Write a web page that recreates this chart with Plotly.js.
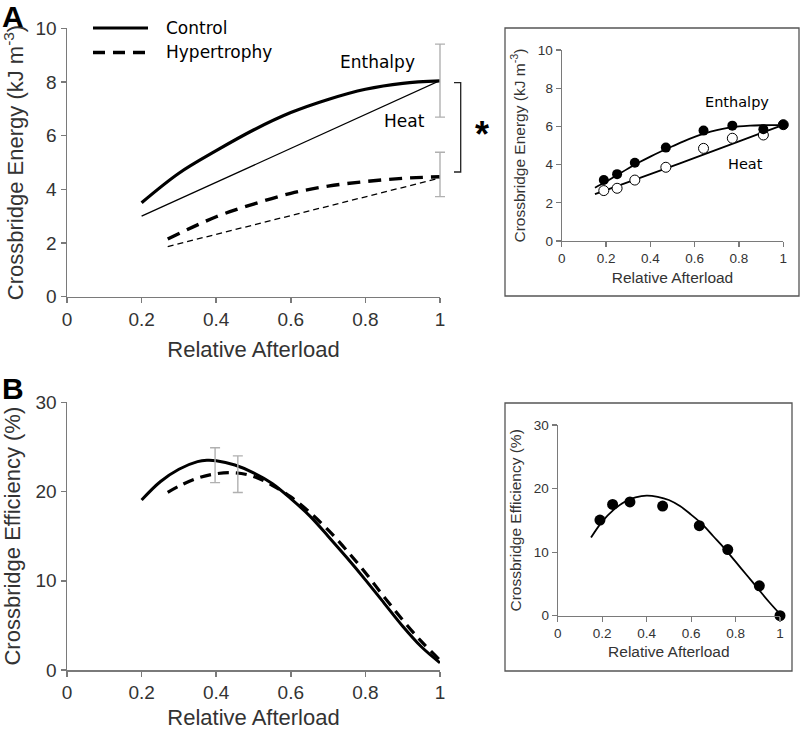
<!DOCTYPE html>
<html>
<head>
<meta charset="utf-8">
<script src="https://cdn.plot.ly/plotly-3.0.1.min.js"></script>
<style>html,body{margin:0;padding:0;background:#fff;}#chart{width:800px;height:730px;}</style>
</head>
<body>
<div id="chart"></div>
<script>
// ---------- Panel A (main): model curves ----------
var aCtrlEnthX = [0.2, 0.3, 0.4, 0.5, 0.6, 0.7, 0.8, 0.9, 1.0];
var aCtrlEnthY = [3.5, 4.6, 5.44, 6.21, 6.86, 7.35, 7.73, 7.95, 8.04];
var aCtrlHeatX = [0.2, 1.0];
var aCtrlHeatY = [3.0, 8.05];
var aHypEnthX = [0.27, 0.4, 0.5, 0.6, 0.7, 0.8, 0.9, 1.0];
var aHypEnthY = [2.15, 2.98, 3.45, 3.85, 4.12, 4.29, 4.41, 4.47];
var aHypHeatX = [0.27, 1.0];
var aHypHeatY = [1.87, 4.42];
// error bars at relative afterload 1
var aErrX = [1.0, 1.0];
var aErrY = [8.05, 4.47];
var aErrPlus = [1.36, 0.91];
var aErrMinus = [1.36, 0.74];

// ---------- Panel A (inset): measured points & fits ----------
var aInsX = [0.19, 0.25, 0.33, 0.47, 0.64, 0.77, 0.91, 1.0];
var aInsEnth = [3.19, 3.5, 4.1, 4.89, 5.78, 6.04, 5.85, 6.09];
var aInsHeat = [2.64, 2.76, 3.19, 3.86, 4.85, 5.38, 5.55, 6.09];
var aInsEnthFitX = [0.15, 0.2, 0.25, 0.3, 0.35, 0.4, 0.45, 0.5, 0.55, 0.6, 0.65, 0.7, 0.75, 0.8, 0.85, 0.9, 0.95, 1.0];
var aInsEnthFitY = [2.79, 3.1, 3.45, 3.8, 4.12, 4.42, 4.7, 4.96, 5.22, 5.45, 5.65, 5.8, 5.92, 6.0, 6.04, 6.06, 6.07, 6.06];
var aInsHeatFitX = [0.15, 0.4, 0.6, 0.8, 1.0];
var aInsHeatFitY = [2.45, 3.5, 4.35, 5.22, 6.08];

// ---------- Panel B (main): efficiency curves ----------
var bCtrlX = [0.2, 0.25, 0.3, 0.35, 0.375, 0.4, 0.45, 0.5, 0.55, 0.6, 0.65, 0.7, 0.75, 0.8, 0.85, 0.9, 0.95, 1.0];
var bCtrlY = [19.05, 21.1, 22.5, 23.35, 23.5, 23.45, 22.97, 22.1, 20.9, 19.2, 17.3, 15.0, 12.6, 10.1, 7.5, 4.9, 2.6, 0.8];
var bHypX = [0.27, 0.3, 0.35, 0.4, 0.45, 0.5, 0.55, 0.6, 0.65, 0.7, 0.75, 0.8, 0.85, 0.9, 0.95, 1.0];
var bHypY = [19.9, 20.6, 21.5, 22.0, 22.1, 21.7, 20.7, 19.4, 17.7, 15.7, 13.4, 10.9, 8.2, 5.6, 3.2, 1.1];
var bErrX = [0.397, 0.458];
var bErrY = [22.95, 21.95];
var bErr = [1.95, 2.05];

// ---------- Panel B (inset): measured points & fit ----------
var bInsX = [0.19, 0.247, 0.325, 0.472, 0.637, 0.765, 0.907, 1.0];
var bInsY = [15.05, 17.5, 17.9, 17.25, 14.16, 10.4, 4.7, 0.0];
var bInsFitX = [0.15, 0.2, 0.25, 0.3, 0.35, 0.4, 0.45, 0.5, 0.55, 0.6, 0.65, 0.7, 0.75, 0.8, 0.85, 0.9, 0.95, 1.0];
var bInsFitY = [12.3, 14.8, 16.6, 17.9, 18.6, 18.9, 18.7, 18.2, 17.25, 15.9, 14.4, 12.5, 10.6, 8.5, 6.4, 4.3, 2.2, 0.26];

var xTickVals = [0, 0.2, 0.4, 0.6, 0.8, 1];
var xTickText = ['0', '0.2', '0.4', '0.6', '0.8', '1'];

var ARIAL = 'Arial, "Liberation Sans", sans-serif';
var VERD = '"DejaVu Sans", Verdana, sans-serif';
var AXC = '#7a7a7a';
var TXC = '#333333';

function px(x) { return x / 800; }
function py(y) { return 1 - y / 730; }

// pixel geometry of the main panel x-axis (0 -> 67px, 1 -> 440px)
var mainX0 = 67, mainX1 = 440, mainXExt = 462;

var traces = [
  // A main
  {x: aCtrlEnthX, y: aCtrlEnthY, xaxis: 'x', yaxis: 'y', mode: 'lines', line: {color: '#000', width: 3.2, shape: 'spline'}, name: 'Control enthalpy'},
  {x: aCtrlHeatX, y: aCtrlHeatY, xaxis: 'x', yaxis: 'y', mode: 'lines', line: {color: '#000', width: 1.3}, name: 'Control heat'},
  {x: aHypEnthX, y: aHypEnthY, xaxis: 'x', yaxis: 'y', mode: 'lines', line: {color: '#000', width: 3.4, dash: '13px,8px', shape: 'spline'}, name: 'Hypertrophy enthalpy'},
  {x: aHypHeatX, y: aHypHeatY, xaxis: 'x', yaxis: 'y', mode: 'lines', line: {color: '#000', width: 1.3, dash: '6px,4px'}, name: 'Hypertrophy heat'},
  // error bars drawn on an invisible, same-scale x-axis that extends a little past 1 so caps are not clipped
  {x: aErrX, y: aErrY, xaxis: 'x5', yaxis: 'y', mode: 'markers', marker: {size: 1, opacity: 0}, cliponaxis: false,
   error_y: {type: 'data', symmetric: false, array: aErrPlus, arrayminus: aErrMinus, color: '#b0b0b0', thickness: 1.4, width: 5}, name: 'SEM'},
  // A inset
  {x: aInsEnthFitX, y: aInsEnthFitY, xaxis: 'x2', yaxis: 'y2', mode: 'lines', line: {color: '#000', width: 1.8, shape: 'spline'}, name: 'Enthalpy fit'},
  {x: aInsHeatFitX, y: aInsHeatFitY, xaxis: 'x2', yaxis: 'y2', mode: 'lines', line: {color: '#000', width: 1.8, shape: 'spline'}, name: 'Heat fit'},
  {x: aInsX, y: aInsHeat, xaxis: 'x2', yaxis: 'y2', mode: 'markers', cliponaxis: false, marker: {symbol: 'circle', size: 10, color: '#fff', line: {color: '#000', width: 1}}, name: 'Heat'},
  {x: aInsX, y: aInsEnth, xaxis: 'x2', yaxis: 'y2', mode: 'markers', cliponaxis: false, marker: {symbol: 'circle', size: 10, color: '#000'}, name: 'Enthalpy'},
  // B main
  {x: bCtrlX, y: bCtrlY, xaxis: 'x3', yaxis: 'y3', mode: 'lines', line: {color: '#000', width: 3, shape: 'spline'}, name: 'Control'},
  {x: bHypX, y: bHypY, xaxis: 'x3', yaxis: 'y3', mode: 'lines', line: {color: '#000', width: 3.2, dash: '11px,7px', shape: 'spline'}, name: 'Hypertrophy'},
  {x: bErrX, y: bErrY, xaxis: 'x3', yaxis: 'y3', mode: 'markers', marker: {size: 1, opacity: 0}, cliponaxis: false,
   error_y: {type: 'data', array: bErr, color: '#b0b0b0', thickness: 1.4, width: 5}, name: 'SEM'},
  // B inset
  {x: bInsFitX, y: bInsFitY, xaxis: 'x4', yaxis: 'y4', mode: 'lines', line: {color: '#000', width: 1.8, shape: 'spline'}, name: 'Efficiency fit'},
  {x: bInsX, y: bInsY, xaxis: 'x4', yaxis: 'y4', mode: 'markers', cliponaxis: false, marker: {symbol: 'circle', size: 11, color: '#000'}, name: 'Efficiency'}
];

function xAx(domain, anchor, tsize, titleSize, standoff, lw) {
  return {
    domain: domain, anchor: anchor, range: [0, 1], tickvals: xTickVals, ticktext: xTickText,
    showline: true, linecolor: AXC, linewidth: lw, ticks: 'outside', ticklen: 5, tickwidth: lw, tickcolor: AXC,
    showgrid: false, zeroline: false, automargin: false, fixedrange: true,
    tickfont: {family: ARIAL, size: tsize, color: TXC},
    title: {text: 'Relative Afterload', font: {family: ARIAL, size: titleSize, color: TXC}, standoff: standoff}
  };
}
function yAx(domain, anchor, range, dtick, title, tsize, titleSize, standoff, lw) {
  return {
    domain: domain, anchor: anchor, range: range, dtick: dtick, tick0: 0,
    showline: true, linecolor: AXC, linewidth: lw, ticks: 'outside', ticklen: 5, tickwidth: lw, tickcolor: AXC,
    showgrid: false, zeroline: false, automargin: false, fixedrange: true,
    tickfont: {family: ARIAL, size: tsize, color: TXC},
    title: {text: title, font: {family: ARIAL, size: titleSize, color: TXC}, standoff: standoff}
  };
}

var energyTitle = 'Crossbridge Energy (kJ m<sup>-3</sup>)';
var effTitle = 'Crossbridge Efficiency (%)';

var layout = {
  width: 800, height: 730,
  margin: {l: 0, r: 0, t: 0, b: 0},
  paper_bgcolor: '#fff', plot_bgcolor: 'rgba(0,0,0,0)',
  showlegend: false,
  xaxis: xAx([px(mainX0), px(mainX1)], 'y', 19, 22, 12, 1.5),
  yaxis: yAx([py(296.7), py(28.3)], 'x', [0, 10], 2, energyTitle, 19, 22, 12, 1.5),
  xaxis2: xAx([px(561.7), px(783.3)], 'y2', 13.5, 15.5, 6, 1.1),
  yaxis2: yAx([py(241), py(50)], 'x2', [0, 10], 2, energyTitle, 13.5, 15.5, 8, 1.1),
  xaxis3: xAx([px(mainX0), px(mainX1)], 'y3', 19, 22, 12, 1.5),
  yaxis3: yAx([py(670), py(402.3)], 'x3', [0, 30], 10, effTitle, 19, 22, 12, 1.5),
  xaxis4: xAx([px(557.7), px(780)], 'y4', 13.5, 15.5, 6, 1.1),
  yaxis4: yAx([py(615.7), py(425)], 'x4', [0, 30], 10, effTitle, 13.5, 15.5, 8, 1.1),
  // hidden helper axis with the same scale as xaxis, extended to the right
  xaxis5: {domain: [px(mainX0), px(mainXExt)], anchor: 'y', range: [0, (mainXExt - mainX0) / (mainX1 - mainX0)],
           visible: false, showgrid: false, zeroline: false, fixedrange: true},
  shapes: [
    // inset boxes
    {type: 'rect', xref: 'paper', yref: 'paper', x0: px(505), x1: px(799), y0: py(296), y1: py(28), line: {color: '#555', width: 1.3}},
    {type: 'rect', xref: 'paper', yref: 'paper', x0: px(505), x1: px(792), y0: py(671), y1: py(403), line: {color: '#555', width: 1.3}},
    // significance bracket
    {type: 'path', xref: 'paper', yref: 'paper',
     path: 'M' + px(454) + ',' + py(82.7) + ' L' + px(460.7) + ',' + py(82.7) + ' L' + px(460.7) + ',' + py(172) + ' L' + px(454) + ',' + py(172),
     line: {color: '#222', width: 1.3}},
    // legend samples
    {type: 'line', xref: 'paper', yref: 'paper', x0: px(93), x1: px(148), y0: py(28), y1: py(28), line: {color: '#000', width: 3.2}},
    {type: 'line', xref: 'paper', yref: 'paper', x0: px(93), x1: px(148), y0: py(52.5), y1: py(52.5), line: {color: '#000', width: 3.4, dash: '12px,8px'}}
  ],
  annotations: [
    {xref: 'paper', yref: 'paper', x: px(164), y: py(28), xanchor: 'left', yanchor: 'middle', text: 'Control', showarrow: false, font: {family: VERD, size: 17, color: '#000'}},
    {xref: 'paper', yref: 'paper', x: px(164), y: py(52.5), xanchor: 'left', yanchor: 'middle', text: 'Hypertrophy', showarrow: false, font: {family: VERD, size: 17, color: '#000'}},
    {xref: 'paper', yref: 'paper', x: px(377), y: py(62), xanchor: 'center', yanchor: 'middle', text: 'Enthalpy', showarrow: false, font: {family: VERD, size: 17, color: '#000'}},
    {xref: 'paper', yref: 'paper', x: px(404), y: py(121), xanchor: 'center', yanchor: 'middle', text: 'Heat', showarrow: false, font: {family: VERD, size: 17, color: '#000'}},
    {xref: 'paper', yref: 'paper', x: px(737), y: py(102), xanchor: 'center', yanchor: 'middle', text: 'Enthalpy', showarrow: false, font: {family: VERD, size: 14.5, color: '#000'}},
    {xref: 'paper', yref: 'paper', x: px(745), y: py(164), xanchor: 'center', yanchor: 'middle', text: 'Heat', showarrow: false, font: {family: VERD, size: 14.5, color: '#000'}},
    {xref: 'paper', yref: 'paper', x: px(482), y: py(134), xanchor: 'center', yanchor: 'middle', text: '<b>*</b>', showarrow: false, font: {family: ARIAL, size: 36, color: '#000'}},
    {xref: 'paper', yref: 'paper', x: px(0), y: py(17), xanchor: 'left', yanchor: 'middle', text: '<b>A</b>', showarrow: false, font: {family: ARIAL, size: 30, color: '#000'}},
    {xref: 'paper', yref: 'paper', x: px(0), y: py(388), xanchor: 'left', yanchor: 'middle', text: '<b>B</b>', showarrow: false, font: {family: ARIAL, size: 30, color: '#000'}}
  ]
};

Plotly.newPlot('chart', traces, layout, {staticPlot: true, displayModeBar: false});
</script>
</body>
</html>
